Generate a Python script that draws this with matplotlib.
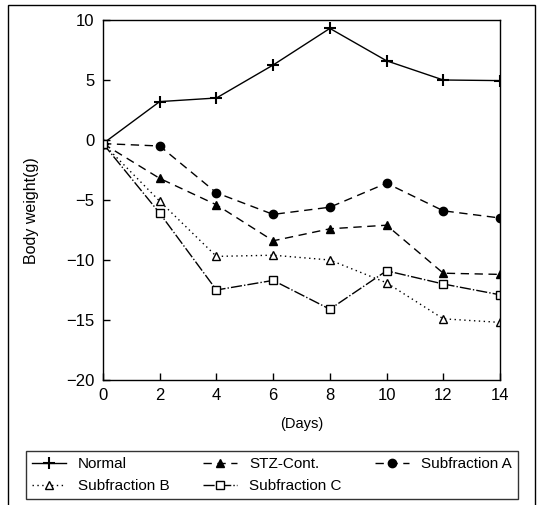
import numpy as np
import matplotlib
matplotlib.use("Agg")
import matplotlib.pyplot as plt
from matplotlib.patches import Rectangle

days = [0, 2, 4, 6, 8, 10, 12, 14]

normal = [-0.3, 3.2, 3.5, 6.25, 9.3, 6.6, 5.0, 4.95]
stz_cont = [-0.3, -3.2, -5.4, -8.4, -7.4, -7.1, -11.1, -11.2]
sub_a = [-0.3, -0.5, -4.4, -6.2, -5.6, -3.6, -5.9, -6.5]
sub_b = [-0.3, -5.1, -9.7, -9.6, -10.0, -11.9, -14.9, -15.2]
sub_c = [-0.3, -6.1, -12.5, -11.7, -14.1, -10.9, -12.0, -12.9]

plt.rcParams['font.family'] = ['Liberation Sans', 'DejaVu Sans']

fig = plt.figure(figsize=(5.4, 5.05), dpi=100)
ax = fig.add_axes([103 / 540, 1 - 380 / 505, 397 / 540, 360 / 505])

# outer frame round the whole figure
fig.patches.append(Rectangle((8 / 540, -0.05), 527 / 540, 1 - 5 / 505 + 0.05,
                             transform=fig.transFigure, fill=False,
                             edgecolor='black', linewidth=1.0))

h_normal, = ax.plot(days, normal, color='black', linestyle='-', linewidth=1.0,
                    marker='+', markersize=8, markeredgewidth=1.5, label='Normal')
h_stz, = ax.plot(days, stz_cont, color='black', linestyle=(0, (6, 4)), linewidth=1.0,
                 marker='^', markersize=6, markerfacecolor='black', label='STZ-Cont.')
h_a, = ax.plot(days, sub_a, color='black', linestyle=(0, (6, 4)), linewidth=1.0,
               marker='o', markersize=6, markerfacecolor='black', label='Subfraction A')
h_b, = ax.plot(days, sub_b, color='black', linestyle=(0, (1, 2.5)), linewidth=1.0,
               marker='^', markersize=6, markerfacecolor='white', label='Subfraction B')
h_c, = ax.plot(days, sub_c, color='black', linestyle=(0, (8, 1.5, 1, 1.5)), linewidth=1.0,
               marker='s', markersize=5.5, markerfacecolor='white', label='Subfraction C')

ax.set_xlim(0, 14)
ax.set_ylim(-20, 10)
ax.set_xticks(days)
ax.set_yticks([-20, -15, -10, -5, 0, 5, 10])
ax.set_yticklabels(['\u221220', '\u221215', '\u221210', '\u22125', '0', '5', '10'])
ax.tick_params(direction='in', length=5, width=1, labelsize=12, pad=6)
ax.set_xlabel('(Days)', fontsize=10.5, labelpad=10)
ax.set_ylabel('Body weight(g)', fontsize=11.5)
ax.yaxis.set_label_coords(-0.16, 0.47)
for s in ax.spines.values():
    s.set_linewidth(1.0)

# legend fills column by column, so order to read row by row
handles = [h_normal, h_b, h_stz, h_c, h_a]
leg = fig.legend(handles=handles, labels=[h.get_label() for h in handles],
                 loc='lower left', bbox_to_anchor=(26 / 540, 1 - 499 / 505, 492 / 540, 56 / 505),
                 mode='expand', ncol=3, fontsize=11, frameon=True, fancybox=False,
                 edgecolor='black', handlelength=2.2, borderaxespad=0, columnspacing=1.5)
leg.get_frame().set_linewidth(1.0)

fig.savefig('out.png', dpi=100)
